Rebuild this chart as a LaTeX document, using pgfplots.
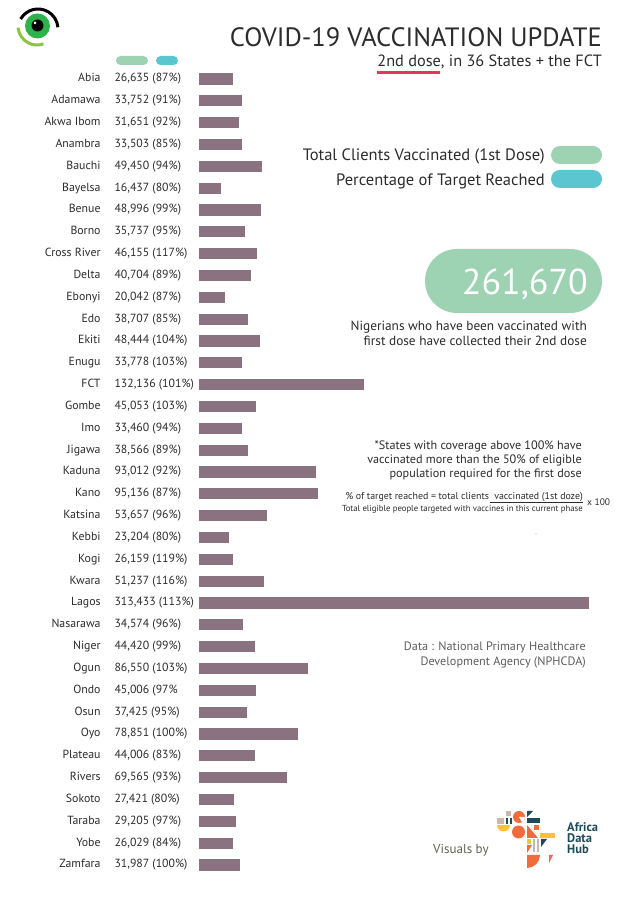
\documentclass[border=0pt]{standalone}
\usepackage{pgfplots}
\pgfplotsset{compat=1.18}
\usepackage{fontspec}
\setmainfont{PT Sans}
\definecolor{txt}{HTML}{2C2C2C}
\definecolor{barcol}{HTML}{8B7280}
\definecolor{mint}{HTML}{9DD3B2}
\definecolor{tealpill}{HTML}{5CC6D0}
\definecolor{rose}{HTML}{E8335A}
\definecolor{srcgray}{HTML}{5E5E5E}
\definecolor{adh}{HTML}{1E4B5A}
\definecolor{eyegreen}{HTML}{2DB34A}
\definecolor{lime}{HTML}{8CC63F}
\definecolor{adhorange}{HTML}{F26B3A}
\definecolor{adhyellow}{HTML}{FDC13A}
\definecolor{adhbeige}{HTML}{C9B9A6}

\begin{document}
\begin{tikzpicture}[x=1pt,y=1pt]
\useasboundingbox (0,0) rectangle (637,900);
\fill[white] (0,0) rectangle (637,900);

\begin{axis}[
  at={(199.6pt,821pt)}, anchor=north west,
  scale only axis, width=389pt, height=786pt,
  xbar, bar width=10pt,
  xmin=0, xmax=313433, ymin=0, ymax=36, y dir=reverse,
  enlargelimits=false, clip=false,
  axis line style={draw=none}, tick style={draw=none},
  xtick=\empty, ytick={0,...,36},
  yticklabels={
    {\llap{Abia\hspace{14pt}}26,635 (87\%)},
    {\llap{Adamawa\hspace{14pt}}33,752 (91\%)},
    {\llap{Akwa Ibom\hspace{14pt}}31,651 (92\%)},
    {\llap{Anambra\hspace{14pt}}33,503 (85\%)},
    {\llap{Bauchi\hspace{14pt}}49,450 (94\%)},
    {\llap{Bayelsa\hspace{14pt}}16,437 (80\%)},
    {\llap{Benue\hspace{14pt}}48,996 (99\%)},
    {\llap{Borno\hspace{14pt}}35,737 (95\%)},
    {\llap{Cross River\hspace{14pt}}46,155 (117\%)},
    {\llap{Delta\hspace{14pt}}40,704 (89\%)},
    {\llap{Ebonyi\hspace{14pt}}20,042 (87\%)},
    {\llap{Edo\hspace{14pt}}38,707 (85\%)},
    {\llap{Ekiti\hspace{14pt}}48,444 (104\%)},
    {\llap{Enugu\hspace{14pt}}33,778 (103\%)},
    {\llap{FCT\hspace{14pt}}132,136 (101\%)},
    {\llap{Gombe\hspace{14pt}}45,053 (103\%)},
    {\llap{Imo\hspace{14pt}}33,460 (94\%)},
    {\llap{Jigawa\hspace{14pt}}38,566 (89\%)},
    {\llap{Kaduna\hspace{14pt}}93,012 (92\%)},
    {\llap{Kano\hspace{14pt}}95,136 (87\%)},
    {\llap{Katsina\hspace{14pt}}53,657 (96\%)},
    {\llap{Kebbi\hspace{14pt}}23,204 (80\%)},
    {\llap{Kogi\hspace{14pt}}26,159 (119\%)},
    {\llap{Kwara\hspace{14pt}}51,237 (116\%)},
    {\llap{Lagos\hspace{14pt}}313,433 (113\%)},
    {\llap{Nasarawa\hspace{14pt}}34,574 (96\%)},
    {\llap{Niger\hspace{14pt}}44,420 (99\%)},
    {\llap{Ogun\hspace{14pt}}86,550 (103\%)},
    {\llap{Ondo\hspace{14pt}}45,006 (97\%},
    {\llap{Osun\hspace{14pt}}37,425 (95\%)},
    {\llap{Oyo\hspace{14pt}}78,851 (100\%)},
    {\llap{Plateau\hspace{14pt}}44,006 (83\%)},
    {\llap{Rivers\hspace{14pt}}69,565 (93\%)},
    {\llap{Sokoto\hspace{14pt}}27,421 (80\%)},
    {\llap{Taraba\hspace{14pt}}29,205 (97\%)},
    {\llap{Yobe\hspace{14pt}}26,029 (84\%)},
    {\llap{Zamfara\hspace{14pt}}31,987 (100\%)}
  },
  yticklabel style={anchor=west, inner sep=0pt, xshift=-81pt,
    font=\fontsize{11.8}{13}\selectfont, text=txt},
]
\addplot[fill=barcol, draw=barcol, line width=1.2pt] coordinates {
  (26635,0) (33752,1) (31651,2) (33503,3) (49450,4) (16437,5)
  (48996,6) (35737,7) (46155,8) (40704,9) (20042,10) (38707,11)
  (48444,12) (33778,13) (132136,14) (45053,15) (33460,16) (38566,17)
  (93012,18) (95136,19) (53657,20) (23204,21) (26159,22) (51237,23)
  (313433,24) (34574,25) (44420,26) (86550,27) (45006,28) (37425,29)
  (78851,30) (44006,31) (69565,32) (27421,33) (29205,34) (26029,35)
  (31987,36)};
\end{axis}

% everything else, in image pixel coordinates (y downwards)
\begin{scope}[shift={(0,900)}, yscale=-1]
  % eye logo
  \fill[eyegreen] (37.5,26) circle (12.5);
  \fill[black] (37.5,25.5) circle (6);
  \fill[white] (35,23) circle (1.5);
  \draw[black, line width=3pt] (38,29) ++(-150:20) arc[start angle=-150, end angle=-5, radius=20];
  \draw[lime, line width=3pt] (37,26) ++(175:19) arc[start angle=175, end angle=70, radius=19];

  % column pills
  \fill[mint, rounded corners=4.5pt] (116,56) rectangle (148,65);
  \fill[tealpill, rounded corners=4.5pt] (156,56) rectangle (178,65);

  % title
  \node[anchor=base east, inner sep=0pt, text=txt, font=\fontsize{26.5}{30}\selectfont] at (602,47) {COVID-19 VACCINATION UPDATE};
  \node[anchor=base east, inner sep=0pt, text=txt, font=\fontsize{16.3}{18}\selectfont] at (602,67) {2nd dose, in 36 States + the FCT};
  \fill[rose] (377,71) rectangle (440,74.5);

  % legend
  \node[anchor=base east, inner sep=0pt, text=txt, font=\fontsize{16.5}{18}\selectfont] at (545,161) {Total Clients Vaccinated (1st Dose)};
  \node[anchor=base east, inner sep=0pt, text=txt, font=\fontsize{16.5}{18}\selectfont] at (545,186) {Percentage of Target Reached};
  \fill[mint, rounded corners=9pt] (551,146) rectangle (602,164);
  \fill[tealpill, rounded corners=9pt] (551,170) rectangle (602,188);

  % total
  \fill[mint, rounded corners=32pt] (425,249) rectangle (602,313);
  \node[anchor=base east, inner sep=0pt, text=white, font=\fontsize{36}{40}\selectfont] at (588,295) {261,670};
  \node[anchor=base east, inner sep=0pt, text=txt, font=\fontsize{13.3}{15}\selectfont] at (587,331) {Nigerians who have been vaccinated with};
  \node[anchor=base east, inner sep=0pt, text=txt, font=\fontsize{13.3}{15}\selectfont] at (587,346) {first dose have collected their 2nd dose};

  % notes
  \node[anchor=base east, inner sep=0pt, text=txt, font=\fontsize{12.2}{14}\selectfont] at (582,450) {*States with coverage above 100\% have};
  \node[anchor=base east, inner sep=0pt, text=txt, font=\fontsize{12.2}{14}\selectfont] at (582,464) {vaccinated more than the 50\% of eligible};
  \node[anchor=base east, inner sep=0pt, text=txt, font=\fontsize{12.2}{14}\selectfont] at (582,478) {population required for the first dose};
  \node[anchor=base east, inner sep=0pt, text=txt, font=\fontsize{9.9}{11}\selectfont] at (583,499.5) {\% of target reached = total clients\ \ vaccinated (1st doze)};
  \draw[txt, line width=0.4pt] (490,502.5) -- (583,502.5);
  \node[anchor=base east, inner sep=0pt, text=txt, font=\fontsize{8.7}{10}\selectfont] at (583,511.5) {Total eligible people targeted with vaccines in this current phase};
  \node[anchor=base west, inner sep=0pt, text=txt, font=\fontsize{9.5}{10}\selectfont] at (587,506) {x 100};
  \fill[gray!60] (536,534) circle (0.6);

  % source
  \node[anchor=base east, inner sep=0pt, text=srcgray, font=\fontsize{12.2}{14}\selectfont] at (586,651) {Data : National Primary Healthcare};
  \node[anchor=base east, inner sep=0pt, text=srcgray, font=\fontsize{12.2}{14}\selectfont] at (586,666) {Development Agency (NPHCDA)};
  \node[anchor=base west, inner sep=0pt, text=srcgray!85!olive, font=\fontsize{13}{14}\selectfont] at (433,854) {Visuals by};

  % Africa Data Hub logo
  \fill[adhbeige] (497,818) rectangle (504,824);
  \fill[adhbeige] (506,811) rectangle (511,816);
  \fill[adh] (506,818) rectangle (508,824);
  \fill[adh] (509.5,818) rectangle (511.5,824);
  \fill[adhorange] (519,817) circle (6);
  \fill[white] (519,817) -- (525,817) arc[start angle=0, end angle=60, radius=6] -- cycle;
  \fill[adh] (527,811) -- (533,811) -- (527,817) -- cycle;
  \fill[adh] (527,818) rectangle (540,823);
  \fill[adhyellow] (497,825) arc[start angle=180, end angle=0, radius=6.5] -- cycle;
  \fill[adhorange] (518.5,832) circle (6.5);
  \fill[adhorange] (527,825) -- (527,838) -- (538,838) -- cycle;
  \fill[adhorange] (534,825) rectangle (539,830);
  \fill[adhyellow] (540,833) rectangle (555,838);
  \fill[adhbeige] (533,839) rectangle (535,852);
  \fill[adhbeige] (537,839) rectangle (539,852);
  \fill[adhyellow] (527,839) rectangle (531,844);
  \fill[adh] (541,839) -- (547,839) -- (541,847) -- cycle;
  \fill[adhorange] (527,845) -- (532,845) -- (527,853) -- cycle;
  \fill[adh] (530,858) circle (2.5);
  \fill[adhorange] (527,855) -- (540,855) arc[start angle=0, end angle=90, radius=13] -- cycle;
  \fill[adhorange] (549,855) -- (553,855) -- (549,863) -- cycle;
  \node[anchor=base west, inner sep=0pt, text=adh, font=\bfseries\fontsize{12.5}{12}\selectfont] at (567,832) {Africa};
  \node[anchor=base west, inner sep=0pt, text=adh, font=\bfseries\fontsize{12.5}{12}\selectfont] at (567,843) {Data};
  \node[anchor=base west, inner sep=0pt, text=adh, font=\bfseries\fontsize{12.5}{12}\selectfont] at (567,854) {Hub};
\end{scope}
\end{tikzpicture}
\end{document}
